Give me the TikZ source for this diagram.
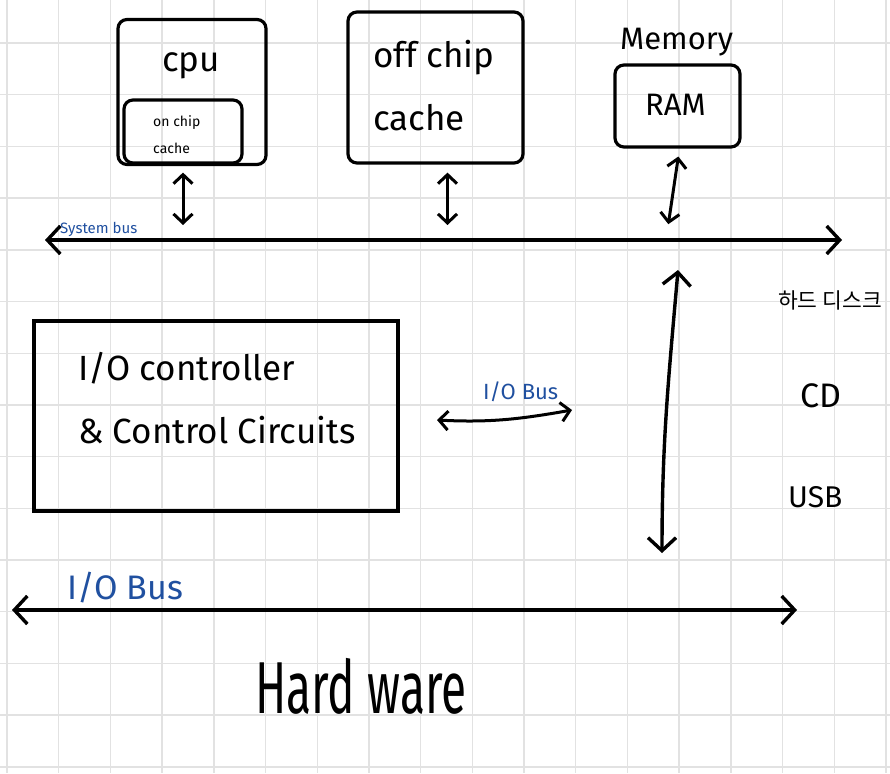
\documentclass[tikz,border=0pt]{standalone}
\usepackage{fontspec}
\usepackage{graphicx}
\setmainfont{Fira Sans}
\newfontfamily\krfont{Noto Sans CJK KR}
\usetikzlibrary{arrows.meta}

\definecolor{gridgray}{RGB}{226,226,226}
\definecolor{penblue}{RGB}{32,80,160}

\tikzstyle{hbox} = [
        draw, line width=3.2pt, rounded corners=9pt, inner sep=0pt
    ]
\tikzstyle{iobox} = [draw, line width=3.2pt, inner sep=0pt]
\tikzstyle{txt} = [inner sep=0pt, anchor=base west, font=\fontsize{35}{40}\selectfont]
\tikzstyle{small} = [inner sep=0pt, anchor=base west, font=\fontsize{14}{16}\selectfont]
\tikzstyle{note} = [inner sep=0pt, anchor=base west, text=penblue]
\tikzstyle{bus} = [
        line width=3.4pt, line cap=round,
        {Straight Barb[length=13pt,width=28pt]}-{Straight Barb[length=13pt,width=28pt]}
    ]
\tikzstyle{link} = [
        line width=3pt, line cap=round,
        {Straight Barb[length=9pt,width=19pt]}-{Straight Barb[length=9pt,width=19pt]}
    ]

\begin{document}
\begin{tikzpicture}[x=1pt, y=-1pt]
        \fill[white] (0,0) rectangle (890,773);
        \useasboundingbox (0,0) rectangle (890,773);
        % grid paper
        \foreach \i in {0,...,17}
            \draw[gridgray, line width=1.4pt] (7+51.7*\i,0) -- (7+51.7*\i,773);
        \foreach \j in {0,...,14}
            \draw[gridgray, line width=1.4pt] (0,43+51.7*\j) -- (890,43+51.7*\j);

        % top row
        \node [hbox, minimum width=148pt, minimum height=145pt] (cpu) at (192,92) {};
        \node [txt] (cputxt) at (162,72) {cpu};
        \node [hbox, minimum width=118pt, minimum height=63pt] (oncache) at (183,131.5) {};
        \node [small] (onchip1) at (153,126) {on chip};
        \node [small] (onchip2) at (153,153) {cache};
        \node [hbox, minimum width=175pt, minimum height=151pt] (offcache) at (435.5,87.5) {};
        \node [txt] (offtxt1) at (373,68) {off chip};
        \node [txt] (offtxt2) at (373,130) {cache};
        \node [txt, font=\fontsize{31}{36}\selectfont] (memtxt) at (620,50) {Memory};
        \node [hbox, minimum width=125pt, minimum height=82pt] (ram) at (677.5,106) {};
        \node [txt, font=\fontsize{31}{36}\selectfont] (ramtxt) at (645,115) {RAM};

        % system bus
        \coordinate (sbl) at (45,240);
        \coordinate (sbr) at (842,240);
        \draw [bus] (sbl) -- (sbr);
        \node [note, font=\fontsize{15}{18}\selectfont] (sbtxt) at (60,233) {System bus};
        \draw [link, shorten <=8pt, shorten >=15pt] (oncache.south) -- (oncache.south |- sbl);
        \draw [link, shorten <=8pt, shorten >=15pt]
            ([xshift=12pt]offcache.south) -- ([xshift=12pt]offcache.south |- sbl);
        \coordinate (ramtap) at (666,240);
        \draw [link, shorten <=8pt, shorten >=16pt] ([xshift=2pt]ram.south) -- (ramtap);

        % i/o controller
        \node [iobox, minimum width=364pt, minimum height=190pt] (ioctrl) at (216,416) {};
        \node [txt] (iotxt1) at (78,380) {I/O controller};
        \node [txt] (iotxt2) at (78,443) {\& Control Circuits};
        \coordinate (ioa) at (437,420);
        \coordinate (iob) at (572,410);
        \draw [link] (ioa) to[out=-3, in=190] (iob);
        \node [note, font=\fontsize{22}{26}\selectfont] (iobtxt) at (483,399) {I/O Bus};

        % devices
        \coordinate (vtop) at (678,270);
        \coordinate (vbot) at (662,553);
        \draw [bus] (vtop) to[out=-95, in=90] (vbot);
        \node [txt, font=\krfont\fontsize{21.5}{26}\selectfont] (hdd) at (778,308) {하드 디스크};
        \node [txt, font=\fontsize{34}{40}\selectfont] (cd) at (800,407) {CD};
        \node [txt, font=\fontsize{30}{36}\selectfont] (usb) at (788,507) {USB};

        % bottom bus
        \coordinate (ibl) at (12,610);
        \coordinate (ibr) at (797,610);
        \draw [bus] (ibl) -- (ibr);
        \node [note, font=\fontsize{34}{40}\selectfont] (ibtxt) at (67,599) {I/O Bus};

        \node [txt, font=\fontsize{46}{50}\selectfont] (hw) at (255,713) {\scalebox{1}[1.6]{Hard ware}};
    \end{tikzpicture}
\end{document}
